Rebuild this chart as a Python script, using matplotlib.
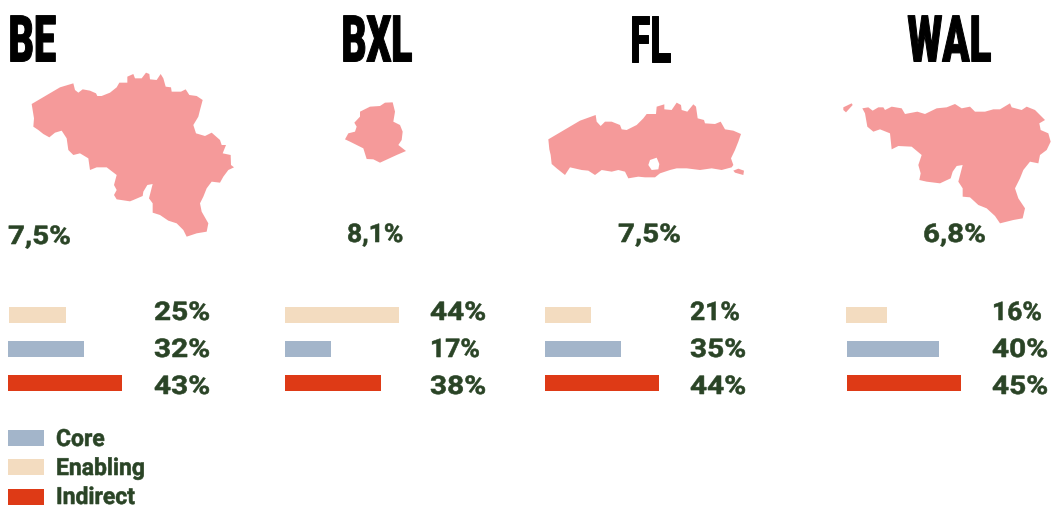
import matplotlib
matplotlib.use("Agg")
import matplotlib.pyplot as plt
from matplotlib.path import Path
from matplotlib.patches import PathPatch
from matplotlib.patheffects import AbstractPathEffect
from matplotlib.transforms import Affine2D

W, H = 1051, 507
regions = ["BE", "BXL", "FL", "WAL"]
rates = ["7,5%", "8,1%", "7,5%", "6,8%"]
enabling_pct = [25, 44, 21, 16]
core_pct = [32, 17, 35, 40]
indirect_pct = [43, 38, 44, 45]
# drawn bar lengths
enabling_len = [57, 114, 46, 41]
core_len = [76, 46, 76, 92]
indirect_len = [114, 96, 114, 114]
legend_labels = ["Core", "Enabling", "Indirect"]

be_outline = [(95,132),(180,82),(220,70),(225,90),(235,98),(248,88),(270,92),(288,100),(292,108),(305,108),(330,98),(350,82),(358,68),(382,68),(382,50),(400,42),(405,55),(425,55),(438,38),(448,42),(450,58),(470,60),(482,42),(490,55),(497,80),(513,82),(515,95),(543,95),(557,88),(568,105),(590,108),(608,120),(600,150),(595,170),(580,195),(588,220),(615,228),(635,218),(660,240),(665,255),(678,255),(668,280),(692,285),(693,315),(702,322),(685,330),(670,350),(660,368),(635,365),(620,385),(610,410),(600,430),(605,455),(625,490),(620,515),(590,520),(560,530),(550,510),(530,490),(505,482),(480,465),(458,458),(458,430),(447,415),(458,372),(442,375),(430,395),(428,408),(400,420),(390,424),(350,418),(342,405),(350,390),(342,375),(350,345),(320,322),(290,322),(270,330),(265,295),(240,280),(220,285),(205,270),(200,235),(185,212),(165,218),(148,232),(130,222),(115,210),(100,200),(102,175)]
fl_outline = [(55,148),(150,92),(197,75),(200,95),(212,108),(225,95),(245,95),(270,105),(275,118),(290,120),(320,105),(340,85),(350,72),(378,72),(380,50),(403,43),(403,58),(425,60),(440,38),(453,45),(455,60),(472,65),(490,43),(498,50),(503,85),(522,90),(525,100),(555,102),(572,95),(585,118),(610,122),(633,132),(625,155),(615,180),(603,205),(610,225),(605,232),(575,240),(545,235),(510,240),(470,235),(440,235),(420,240),(390,250),(375,262),(345,262),(325,260),(295,265),(285,245),(265,240),(245,245),(215,240),(195,255),(175,242),(155,240),(120,232),(105,255),(80,235),(65,222),(62,195),(58,178)]
fl_hole = [(365,240),(385,238),(388,222),(380,203),(360,210),(355,225)]
fl_islet = [(610,242),(625,236),(642,242),(640,255),(615,248)]
wal_outline = [(97,55),(115,52),(128,62),(145,52),(160,52),(165,60),(185,50),(215,55),(225,72),(262,65),(285,72),(320,55),(350,52),(375,42),(395,55),(420,50),(435,65),(465,65),(490,58),(510,58),(540,40),(545,52),(575,60),(590,50),(615,60),(645,90),(628,100),(632,120),(655,130),(662,155),(650,180),(630,195),(625,220),(600,215),(580,240),(570,265),(555,295),(565,325),(585,355),(578,385),(550,390),(510,400),(495,378),(470,355),(445,345),(420,322),(398,320),(398,295),(385,275),(398,225),(380,228),(368,245),(362,265),(330,280),(290,275),(268,270),(272,250),(265,225),(275,195),(245,170),(205,168),(185,178),(180,130),(150,118),(130,125),(112,110),(105,70)]
wal_islet = [(40,52),(65,40),(68,45),(48,67),(40,60)]
bxl_outline = [(45,148),(55,130),(75,125),(80,110),(73,98),(90,80),(90,65),(120,50),(150,48),(165,38),(188,37),(195,65),(190,95),(210,105),(218,125),(215,150),(205,165),(228,183),(200,195),(150,218),(130,208),(110,207),(100,175),(80,165),(60,155)]

maps = {
    "BE": ((0, 60), [be_outline]),
    "BXL": ((330, 90), [bxl_outline]),
    "FL": ((530, 90), [fl_outline, fl_hole, fl_islet]),
    "WAL": ((830, 90), [wal_outline, wal_islet]),
}

GREEN = "#2a4426"
PINK = "#f59a9a"
C_CORE = "#a3b5ca"
C_EN = "#f3dcc0"
C_IN = "#de3a16"


class HStretch(AbstractPathEffect):
    """Draws a text's glyphs stretched horizontally about a fixed x pixel, with an optional outline."""

    def __init__(self, sx, x0, lw=0.0):
        super().__init__()
        self.sx, self.x0, self.lw = sx, x0, lw

    def draw_path(self, renderer, gc, tpath, affine, rgbFace=None):
        a = affine + Affine2D().translate(-self.x0, 0).scale(self.sx, 1).translate(self.x0, 0)
        gc0 = renderer.new_gc()
        gc0.copy_properties(gc)
        if self.lw > 0 and rgbFace is not None:
            gc0.set_foreground(rgbFace[:3])
            gc0.set_linewidth(self.lw)
        renderer.draw_path(gc0, tpath, a, rgbFace)
        gc0.restore()


fig = plt.figure(figsize=(W / 100, H / 100), dpi=100, facecolor="white")
ax = fig.add_axes([0, 0, 1, 1])
ax.set_xlim(0, W)
ax.set_ylim(H, 0)
ax.axis("off")

for name, (origin, rings) in maps.items():
    verts, codes = [], []
    for ring in rings:
        pts = [(origin[0] + x / 3, origin[1] + y / 3) for x, y in ring]
        verts += pts + [pts[0]]
        codes += [Path.MOVETO] + [Path.LINETO] * (len(pts) - 1) + [Path.CLOSEPOLY]
    ax.add_patch(PathPatch(Path(verts, codes), fc=PINK, ec="none"))

title_x = [8.5, 341.5, 629.5, 907.5]
title_sx = [0.61, 0.60, 0.58, 0.62]
for t, x, sx in zip(regions, title_x, title_sx):
    ax.text(x, 61.5, t, fontsize=46.5, fontweight=900, family="Roboto", color="black",
            ha="left", va="baseline", path_effects=[HStretch(sx, x, lw=0.7)])

rate_x = [8, 347, 618, 923]
rate_y = [244, 242, 242, 242]
for t, x, y in zip(rates, rate_x, rate_y):
    sx = 1.03 if "1" in t else 1.15
    ax.text(x, y, t, fontsize=18.5, fontweight="bold", family="Roboto", color=GREEN,
            ha="left", va="baseline", path_effects=[HStretch(sx, x, lw=0.4)])

bar_x = [8, 285, 545, 847]
enabling_x = [9, 285, 545, 846]
label_x = [154, 430, 690, 992]
for i in range(4):
    ax.barh(315, enabling_len[i], height=16, left=enabling_x[i], color=C_EN)
    ax.barh(349, core_len[i], height=16, left=bar_x[i], color=C_CORE)
    ax.barh(383, indirect_len[i], height=16, left=bar_x[i], color=C_IN)
    for v, y in zip((enabling_pct[i], core_pct[i], indirect_pct[i]), (320, 357, 394)):
        s = f"{v}%"
        sx = 1.03 if "1" in s else 1.16
        ax.text(label_x[i], y, s, fontsize=18.5, fontweight="bold", family="Roboto",
                color=GREEN, ha="left", va="baseline",
                path_effects=[HStretch(sx, label_x[i], lw=0.4)])

for lab, c, y, base in zip(legend_labels, (C_CORE, C_EN, C_IN), (438, 467, 497), (446, 475, 504)):
    ax.barh(y, 36, height=16, left=8, color=c)
    ax.text(56, base, lab, fontsize=17, fontweight="bold", family="Roboto",
            color=GREEN, ha="left", va="baseline",
            path_effects=[HStretch(0.97, 56, lw=0.4)])

fig.savefig("out.png", dpi=100, facecolor="white")
